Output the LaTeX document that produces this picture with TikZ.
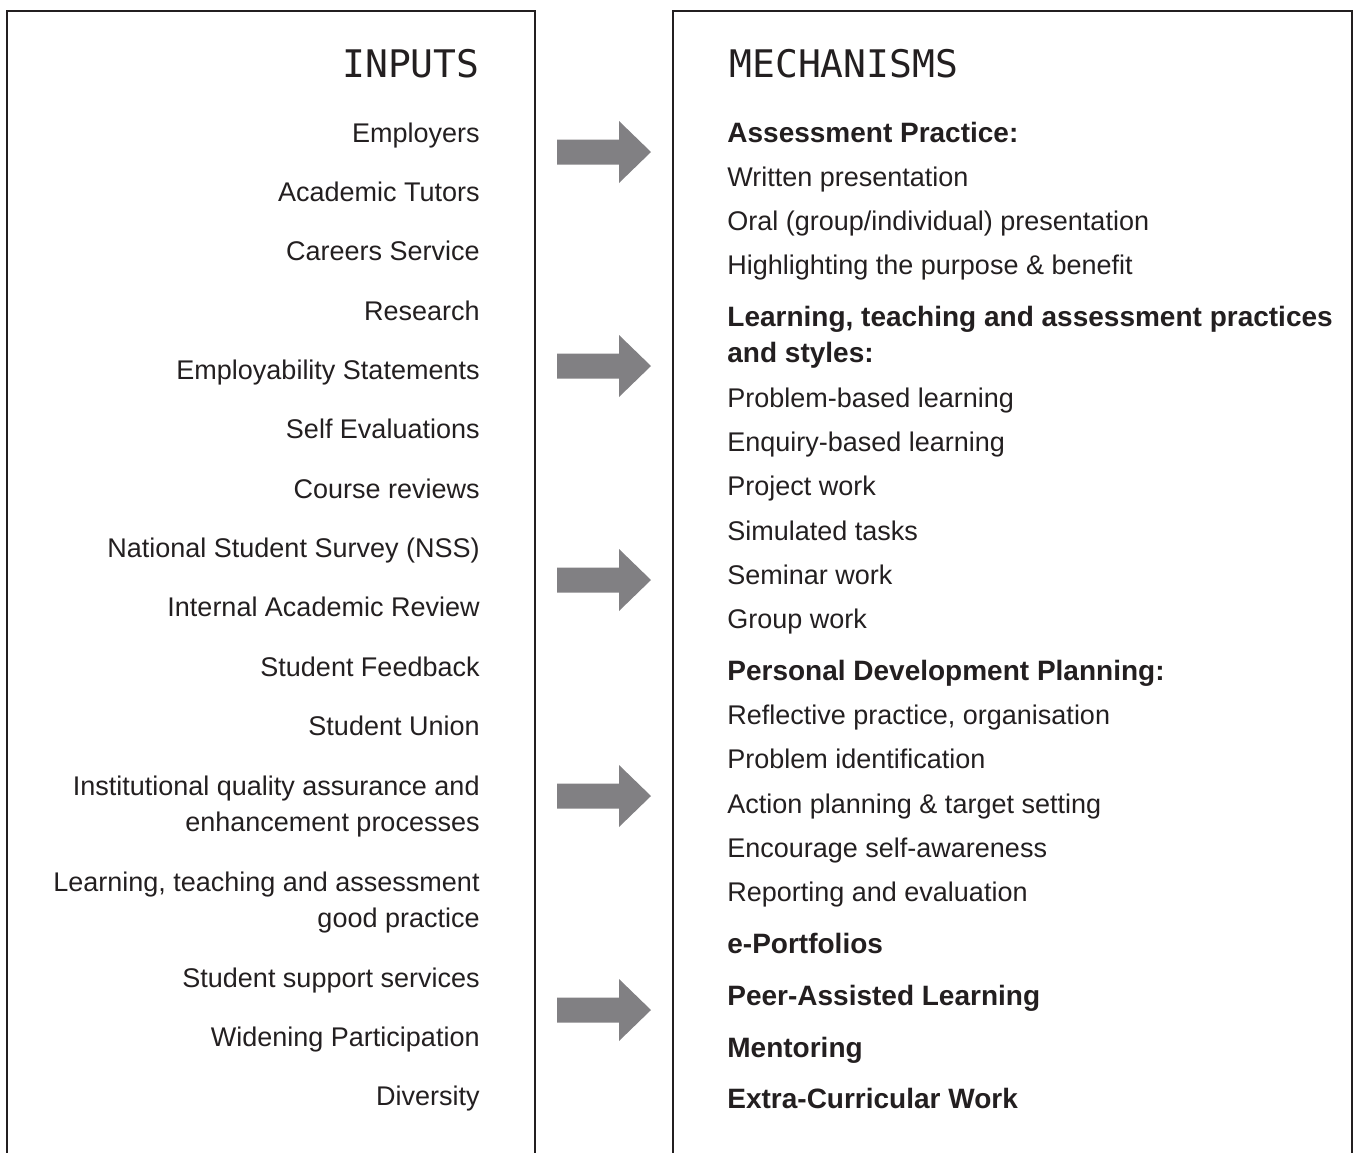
\documentclass[tikz,border=0pt]{standalone}
\usepackage{fontspec}
\setmainfont{Liberation Sans}
\newfontfamily\titlefont{DejaVu Sans Mono}
\usepackage{tikz}
\usetikzlibrary{positioning}
\usepackage{xcolor}
\definecolor{ink}{HTML}{231F20}
\definecolor{arrowgrey}{HTML}{818083}

\tikzset{
  item/.style={inner sep=0pt, text=ink, font=\fontsize{13.5}{18}\selectfont},
  initem/.style={item, anchor=base east, align=right},
  mechitem/.style={item, anchor=base west, align=left},
  mechhead/.style={mechitem, font=\fontsize{14}{18}\selectfont\bfseries},
  heading/.style={inner sep=0pt, text=ink, font=\titlefont\fontsize{19}{19}\selectfont},
  panel/.style={draw=ink, line width=0.8pt},
  bigarrow/.style={fill=arrowgrey, draw=none}
}

\begin{document}
\begin{tikzpicture}[x=0.5pt, y=-0.5pt]
  \useasboundingbox (0,0) rectangle (1357,1153);

  % the two panels, open at the bottom
  \draw[panel] (7,1160) -- (7,11) -- (535,11) -- (535,1160);
  \draw[panel] (673,1160) -- (673,11) -- (1352,11) -- (1352,1160);

  % headings
  \node[heading, anchor=base east] (inputs) at (480,77) {INPUTS};
  \node[heading, anchor=base west] (mechanisms) at (729,77) {MECHANISMS};

  % inputs (two-line nodes sit on the baseline of their last line)
  \node[initem] (employers) at (480,142) {Employers};
  \node[initem] (tutors) at (480,201) {Academic Tutors};
  \node[initem] (careers) at (480,260) {Careers Service};
  \node[initem] (research) at (480,320) {Research};
  \node[initem] (statements) at (480,379) {Employability Statements};
  \node[initem] (selfeval) at (480,438) {Self Evaluations};
  \node[initem] (reviews) at (480,498) {Course reviews};
  \node[initem] (nss) at (480,557) {National Student Survey (NSS)};
  \node[initem] (iar) at (480,616) {Internal Academic Review};
  \node[initem] (feedback) at (480,676) {Student Feedback};
  \node[initem] (union) at (480,735) {Student Union};
  \node[initem] (quality) at (480,831) {Institutional quality assurance and\\enhancement processes};
  \node[initem] (goodpractice) at (480,927) {Learning, teaching and assessment\\good practice};
  \node[initem] (support) at (480,987) {Student support services};
  \node[initem] (widening) at (480,1046) {Widening Participation};
  \node[initem] (diversity) at (480,1105) {Diversity};

  % arrows between the panels
  \foreach \y in {152,366,580,796,1010}
    \fill[bigarrow] (557,\y-12.5) -- (619,\y-12.5) -- (619,\y-31) -- (651,\y)
      -- (619,\y+31) -- (619,\y+12.5) -- (557,\y+12.5) -- cycle;

  % mechanisms
  \node[mechhead] (assess) at (727,142) {Assessment Practice:};
  \node[mechitem] (written) at (727,186) {Written presentation};
  \node[mechitem] (oral) at (727,230) {Oral (group/individual) presentation};
  \node[mechitem] (purpose) at (727,274) {Highlighting the purpose \& benefit};
  \node[mechhead] (ltastyles) at (727,362) {Learning, teaching and assessment practices\\and styles:};
  \node[mechitem] (pbl) at (727,407) {Problem-based learning};
  \node[mechitem] (ebl) at (727,451) {Enquiry-based learning};
  \node[mechitem] (project) at (727,495) {Project work};
  \node[mechitem] (simulated) at (727,540) {Simulated tasks};
  \node[mechitem] (seminar) at (727,584) {Seminar work};
  \node[mechitem] (group) at (727,628) {Group work};
  \node[mechhead] (pdp) at (727,680) {Personal Development Planning:};
  \node[mechitem] (reflective) at (727,724) {Reflective practice, organisation};
  \node[mechitem] (problemid) at (727,768) {Problem identification};
  \node[mechitem] (action) at (727,813) {Action planning \& target setting};
  \node[mechitem] (awareness) at (727,857) {Encourage self-awareness};
  \node[mechitem] (reporting) at (727,901) {Reporting and evaluation};
  \node[mechhead] (eport) at (727,953) {e-Portfolios};
  \node[mechhead] (pal) at (727,1005) {Peer-Assisted Learning};
  \node[mechhead] (mentoring) at (727,1057) {Mentoring};
  \node[mechhead] (extra) at (727,1108) {Extra-Curricular Work};
\end{tikzpicture}
\end{document}
